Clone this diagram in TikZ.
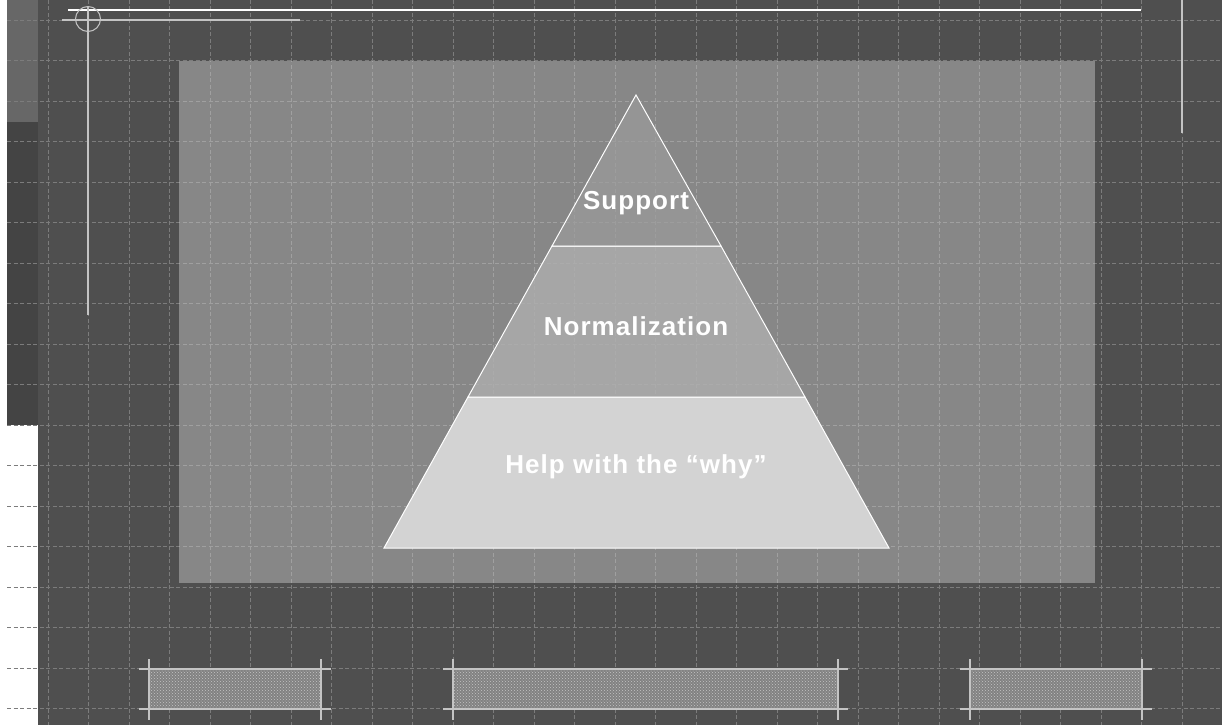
\documentclass[tikz,border=0pt]{standalone}
\usepackage{fontspec}
\setmainfont{Liberation Sans}
\newfontfamily\tierfont[LetterSpace=4]{Liberation Sans}
\usepackage{xcolor}
\usetikzlibrary{patterns}

\definecolor{slate}{HTML}{4F4F4F}
\definecolor{stripA}{HTML}{676767}
\definecolor{stripB}{HTML}{444444}
\definecolor{panel}{HTML}{878787}
\definecolor{gridgray}{HTML}{7C7C7C}
\definecolor{gridlight}{HTML}{A0A0A0}
\definecolor{tierA}{HTML}{9C9C9C}
\definecolor{tierB}{HTML}{AEAEAE}
\definecolor{tierC}{HTML}{D3D3D3}
\definecolor{barfill}{HTML}{828282}
\definecolor{barline}{HTML}{C4C4C4}

\begin{document}
\begin{tikzpicture}[
    x=1pt, y=-1pt,
    gridline/.style={gridgray, line width=0.8pt, dash pattern=on 4pt off 2.5pt},
    tier/.style={draw=white, line width=1pt},
    tiertext/.style={text=white, font=\tierfont\bfseries\fontsize{26}{30}\selectfont},
    guide/.style={barline, line width=1.2pt},
    bar/.style={fill=barfill, postaction={pattern=crosshatch dots, pattern color=barline}}
  ]
  \useasboundingbox (0,0) rectangle (1222,725);
  % backdrop
  \fill[white] (0,0) rectangle (1222,725);
  \fill[slate] (38,0) rectangle (1222,725);
  \fill[stripA] (7,0) rectangle (38,122);
  \fill[stripB] (7,122) rectangle (38,425);
  \fill[panel] (179,61) rectangle (1095,583);

  % grid
  \foreach \i in {0,...,29}
    \draw[gridline] ({48+40.5*\i},0) -- ({48+40.5*\i},725);
  \foreach \j in {0,...,17}
    \draw[gridline] (7,{20+40.5*\j}) -- (1222,{20+40.5*\j});
  \begin{scope}
    \clip (179,61) rectangle (1095,583);
    \foreach \i in {0,...,29}
      \draw[gridline, gridlight] ({48+40.5*\i},0) -- ({48+40.5*\i},725);
    \foreach \j in {0,...,17}
      \draw[gridline, gridlight] (7,{20+40.5*\j}) -- (1222,{20+40.5*\j});
  \end{scope}

  % frame marks
  \draw[white, line width=2pt] (68,10) -- (1141,10);
  \draw[barline, line width=1.2pt] (62,20) -- (300,20);
  \draw[barline, line width=1pt] (88,19) circle (12.5);
  \draw[barline, line width=1.5pt] (88,6) -- (88,315);
  \draw[barline, line width=1.5pt] (1182,0) -- (1182,133);

  % pyramid
  \coordinate (apex) at (636,95);
  \coordinate (baseL) at (384,548);
  \coordinate (baseR) at (889,548);
  \filldraw[tier, fill=tierC] (468,397) -- (805,397) -- (baseR) -- (baseL) -- cycle;
  \filldraw[tier, fill=tierB, fill opacity=0.8] (552,246) -- (721,246) -- (805,397) -- (468,397) -- cycle;
  \filldraw[tier, fill=tierA, fill opacity=0.7] (apex) -- (721,246) -- (552,246) -- cycle;

  \node (support) [tiertext] at (636,203) {Support};
  \node (normal) [tiertext] at (636,326) {Normalization};
  \node (why) [tiertext] at (636,467) {Help with the “why”};

  % bottom bars
  \foreach \l/\r in {149/321, 453/838, 970/1142} {
    \path[bar] (\l,669) rectangle (\r,709);
    \draw[guide] ({\l-10},669) -- ({\r+10},669);
    \draw[guide] ({\l-10},709) -- ({\r+10},709);
    \draw[guide] (\l,659) -- (\l,720);
    \draw[guide] (\r,659) -- (\r,720);
  }
\end{tikzpicture}
\end{document}
